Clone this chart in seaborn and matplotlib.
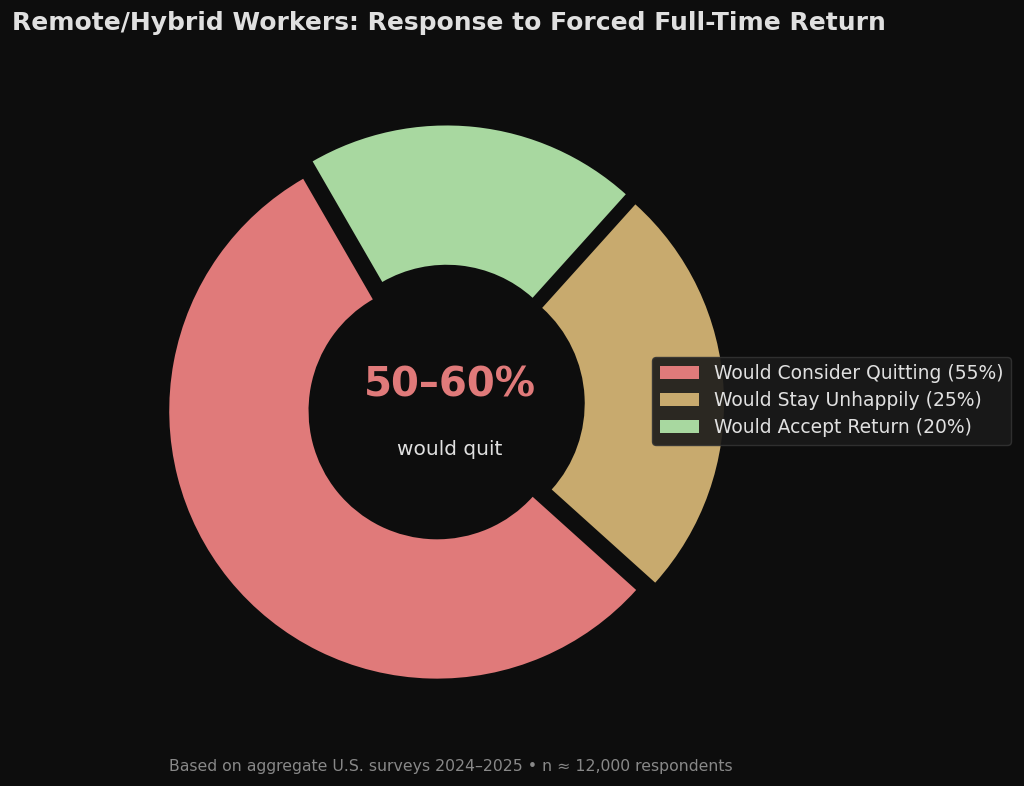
import matplotlib
matplotlib.use("Agg")
import matplotlib.pyplot as plt
import seaborn as sns

# data
labels = ["Would Consider Quitting (55%)", "Would Stay Unhappily (25%)", "Would Accept Return (20%)"]
shares = [55, 25, 20]
colors = ["#E07A7A", "#C8AA6E", "#A8D8A0"]
headline = "50\u201360%"
subline = "would quit"
title = "Remote/Hybrid Workers: Response to Forced Full-Time Return"
footer = "Based on aggregate U.S. surveys 2024\u20132025 \u2022 n \u2248 12,000 respondents"

BG = "#0d0d0d"
TXT = "#e0e0e0"

sns.set_theme(style="dark", rc={
    "figure.facecolor": BG,
    "axes.facecolor": BG,
    "text.color": TXT,
})
plt.rcParams["font.family"] = ["DejaVu Sans"]

fig = plt.figure(figsize=(10.24, 7.86), dpi=100)
ax = fig.add_axes([0.108, 0.06, 0.654, 0.852])

wedges, _ = ax.pie(
    shares,
    colors=colors,
    startangle=120,
    explode=[0.04] * len(shares),
    wedgeprops=dict(width=0.52, linewidth=0),
)
ax.set_xlim(-1.25, 1.25)
ax.set_ylim(-1.25, 1.25)
ax.set_aspect("equal")
ax.axis("off")

ax.text(0.015, 0.07, headline, ha="center", va="center",
        fontsize=29, fontweight="bold", color=colors[0])
ax.text(0.015, -0.17, subline, ha="center", va="center", fontsize=14.5, color=TXT)

leg = ax.legend(wedges, labels, loc="center left", bbox_to_anchor=(0.795, 0.505),
                fontsize=13.5, frameon=True, facecolor="#1a1a1a", edgecolor="#333333",
                framealpha=0.9, borderpad=0.4, labelspacing=0.42, handlelength=2.1)
for t in leg.get_texts():
    t.set_color(TXT)

fig.text(0.012, 0.971, title, ha="left", va="center", fontsize=18,
         fontweight="bold", color=TXT)
fig.text(0.44, 0.025, footer, ha="center", va="center", fontsize=11.3, color="#888888")

fig.savefig("out.png", dpi=100, facecolor=BG)
